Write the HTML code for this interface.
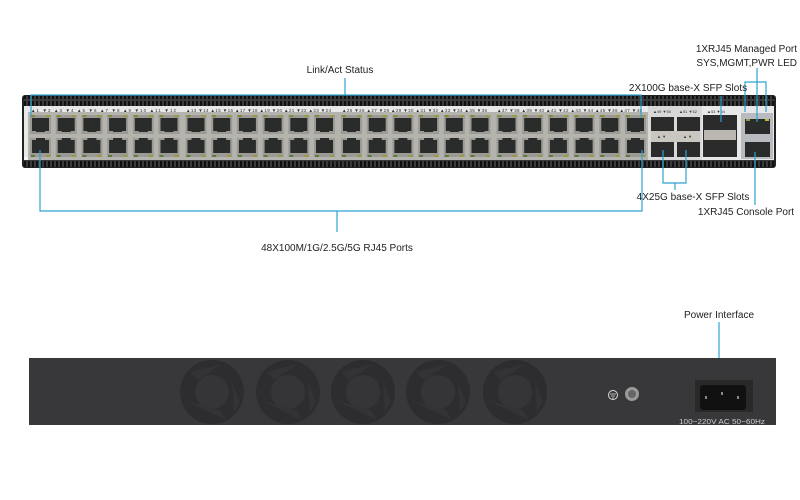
<!DOCTYPE html>
<html><head><meta charset="utf-8"><style>
html,body{margin:0;padding:0;background:#fff;width:800px;height:500px;overflow:hidden}
svg{display:block}
text{font-family:"Liberation Sans",sans-serif}
</style></head><body>
<svg width="800" height="500" viewBox="0 0 800 500" xmlns="http://www.w3.org/2000/svg">
<defs>
<pattern id="rib" width="4" height="10" patternUnits="userSpaceOnUse">
<rect width="4" height="10" fill="#3a3a3a"/><rect x="0" y="1" width="2" height="8" fill="#111"/>
</pattern>
<g id="col">
<rect x="0" y="0" width="21" height="19" fill="#9c9a94"/>
<rect x="2" y="3" width="17" height="13" fill="#2a2c2c"/>
<rect x="6" y="14" width="9" height="3" fill="#2a2c2c"/>
<rect x="1" y="0" width="4" height="2" fill="#7f8a3a"/><rect x="16" y="0" width="4" height="2" fill="#9a9a3c"/>
<rect x="0" y="23" width="21" height="19" fill="#9c9a94"/>
<rect x="2" y="25" width="17" height="13" fill="#2a2c2c"/>
<rect x="6" y="23" width="9" height="3" fill="#2a2c2c"/>
<rect x="1" y="40" width="4" height="2" fill="#5d7a3a"/><rect x="16" y="40" width="4" height="2" fill="#9a9a3c"/>
</g>
<g id="grp">
<rect x="-2" y="-3" width="156" height="48" fill="#b5b3ad"/>
<use href="#col" x="0"/><use href="#col" x="25.7"/><use href="#col" x="51.4"/><use href="#col" x="77.1"/><use href="#col" x="102.8"/><use href="#col" x="128.5"/>
</g>
<g id="fan">
<circle r="32" fill="#2d2c2e"/>
<circle r="17" fill="#353436"/>
<path d="M-28,8 L8,18 L14,28 Z M10,-28 L-14,-12 L-22,-20 Z M20,-10 L22,20 L28,10 Z" fill="#333234"/>
</g>
</defs>

<!-- front panel -->
<rect x="22" y="95" width="754" height="73" rx="3" fill="#222"/>
<rect x="24" y="96" width="750" height="10" fill="url(#rib)"/>
<rect x="24" y="106" width="750" height="54" fill="#e8e8e8"/>
<rect x="24" y="160" width="750" height="7" fill="url(#rib)"/>
<rect x="24" y="157" width="622" height="3" fill="#f4f4f4"/>

<g font-size="4.5" fill="#333">
<text x="31" y="112" textLength="145" lengthAdjust="spacing">▲1 ▼2 ▲3 ▼4 ▲5 ▼6 ▲7 ▼8 ▲9 ▼10 ▲11 ▼12</text>
<text x="186" y="112" textLength="145" lengthAdjust="spacing">▲13 ▼14 ▲15 ▼16 ▲17 ▼18 ▲19 ▼20 ▲21 ▼22 ▲23 ▼24</text>
<text x="342" y="112" textLength="145" lengthAdjust="spacing">▲25 ▼26 ▲27 ▼28 ▲29 ▼30 ▲31 ▼32 ▲33 ▼34 ▲35 ▼36</text>
<text x="497" y="112" textLength="145" lengthAdjust="spacing">▲37 ▼38 ▲39 ▼40 ▲41 ▼42 ▲43 ▼44 ▲45 ▼46 ▲47 ▼48</text>
<text x="322" y="163" font-size="4">10/100M/1G/2.5G/5G</text>
</g>
<use href="#grp" x="30" y="115"/>
<use href="#grp" x="185.5" y="115"/>
<use href="#grp" x="341" y="115"/>
<use href="#grp" x="496.5" y="115"/>

<!-- SFP 25G -->
<rect x="648" y="106" width="54" height="54" fill="#d8d8d8"/>
<g fill="#2b2b2b">
<rect x="651" y="117" width="23" height="14"/><rect x="677" y="117" width="23" height="14"/>
<rect x="651" y="142" width="23" height="15"/><rect x="677" y="142" width="23" height="15"/>
</g>
<rect x="651" y="131" width="49" height="11" fill="#c9c7c0"/>
<g font-size="4" fill="#333">
<text x="653" y="113">▲49 ▼50</text><text x="679" y="113">▲51 ▼52</text>
<text x="657" y="138">▲ ▼</text><text x="683" y="138">▲ ▼</text>
<text x="669" y="163">25G</text>
<text x="707" y="113">▲53 ▼54</text>
<text x="714" y="163">100G</text>
<text x="744" y="117" font-size="3.5">SYS MGMT PWR</text>
<text x="748" y="163" font-size="4">CONSOLE</text>
</g>
<!-- 100G -->
<rect x="703" y="115" width="34" height="42" fill="#2b2b2b"/>
<rect x="704" y="130" width="32" height="10" fill="#b9b7b0"/>
<!-- right module -->
<rect x="741" y="113" width="32" height="46" fill="#b8bcc0"/>
<rect x="745" y="119" width="25" height="15" fill="#2a2c2c"/>
<rect x="745" y="142" width="25" height="15" fill="#2a2c2c"/>
<rect x="746" y="119" width="4" height="2" fill="#8c9a3a"/><rect x="765" y="119" width="4" height="2" fill="#b8b83c"/>

<!-- callouts -->
<g stroke="#2ea3d2" stroke-width="1.2" fill="none">
<path d="M31,116 V95 H641 V118"/>
<path d="M345,78 V95"/>
<path d="M40,150 V211 H642 V150"/>
<path d="M337,211 V232"/>
<path d="M663,150 V183 H686 V150 M675,183 V190"/>
<path d="M721,96 V122"/>
<path d="M745,112 V82 H766 V112 M757,68 V122"/>
<path d="M755,152 V205"/>
<path d="M719,322 V381"/>
</g>
<g font-size="10" fill="#222">
<text x="340" y="73" text-anchor="middle">Link/Act Status</text>
<text x="337" y="251" text-anchor="middle">48X100M/1G/2.5G/5G RJ45 Ports</text>
<text x="688" y="91" text-anchor="middle">2X100G base-X SFP Slots</text>
<text x="797" y="52" text-anchor="end">1XRJ45 Managed Port</text>
<text x="797" y="66" text-anchor="end">SYS,MGMT,PWR LED</text>
<text x="693" y="200" text-anchor="middle">4X25G base-X SFP Slots</text>
<text x="746" y="215" text-anchor="middle">1XRJ45 Console Port</text>
<text x="719" y="318" text-anchor="middle">Power Interface</text>
</g>

<!-- rear panel -->
<rect x="29" y="358" width="747" height="67" fill="#383739"/>
<use href="#fan" x="212" y="392"/>
<use href="#fan" x="288" y="392"/>
<use href="#fan" x="363" y="392"/>
<use href="#fan" x="438" y="392"/>
<use href="#fan" x="515" y="392"/>
<circle cx="613" cy="395" r="4.5" fill="none" stroke="#ddd" stroke-width="1"/>
<path d="M610,394 H616 M611,396 H615 M612,398 H614" stroke="#ddd" stroke-width="0.8"/>
<circle cx="632" cy="394" r="7" fill="#9a9a9a"/>
<circle cx="632" cy="394" r="4" fill="#666"/>
<rect x="695" y="380" width="58" height="32" fill="#2a292a"/>
<rect x="700" y="385" width="46" height="25" rx="3" fill="#111"/>
<rect x="705" y="396" width="2" height="3" fill="#888"/><rect x="721" y="392" width="2" height="3" fill="#888"/><rect x="737" y="396" width="2" height="3" fill="#888"/>
<text x="679" y="424" font-size="7" fill="#cfcfcf" textLength="86" lengthAdjust="spacingAndGlyphs">100~220V  AC   50~60Hz</text>
</svg>
</body></html>
